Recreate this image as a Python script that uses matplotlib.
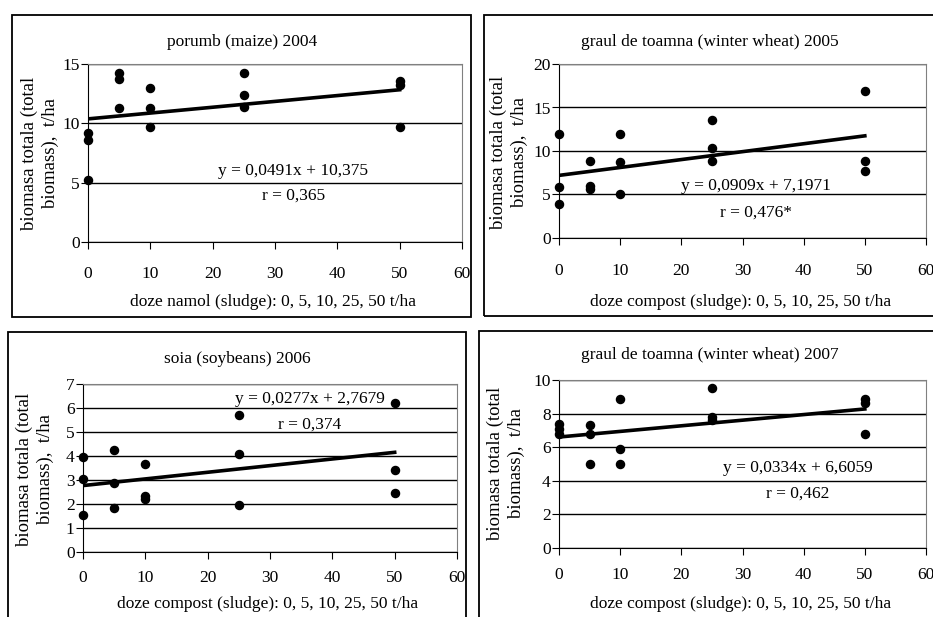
import numpy as np
import matplotlib
matplotlib.use("Agg")
import matplotlib.pyplot as plt
from matplotlib.patches import Rectangle

plt.rcParams['font.family'] = ['Liberation Serif', 'DejaVu Serif']

# doses (t/ha) and total biomass readings per crop/year
doze = [0, 0, 0, 5, 5, 5, 10, 10, 10, 25, 25, 25, 50, 50, 50]

porumb_2004 = [9.2, 8.6, 5.2, 14.2, 13.7, 11.3, 13.0, 11.3, 9.7, 14.2, 12.4, 11.4, 13.6, 13.2, 9.7]
grau_2005 = [11.9, 5.9, 3.9, 8.9, 6.0, 5.6, 12.0, 8.7, 5.1, 13.6, 10.4, 8.9, 16.9, 8.9, 7.7]
soia_2006 = [3.95, 3.03, 1.53, 4.23, 2.86, 1.83, 3.65, 2.34, 2.2, 5.72, 4.1, 1.94, 6.22, 3.43, 2.45]
grau_2007 = [7.4, 7.1, 6.8, 7.3, 6.8, 5.0, 8.85, 5.9, 5.0, 9.5, 7.8, 7.6, 8.85, 8.65, 6.8]

titles = ["porumb (maize) 2004", "graul de toamna (winter wheat) 2005",
          "soia (soybeans) 2006", "graul de toamna (winter wheat) 2007"]
xlabels = ["doze namol (sludge): 0, 5, 10, 25, 50 t/ha",
           "doze compost (sludge): 0, 5, 10, 25, 50 t/ha",
           "doze compost (sludge): 0, 5, 10, 25, 50 t/ha",
           "doze compost (sludge): 0, 5, 10, 25, 50 t/ha"]
slopes = [0.0491, 0.0909, 0.0277, 0.0334]
intercepts = [10.375, 7.1971, 2.7679, 6.6059]
eq_texts = ["y = 0,0491x + 10,375", "y = 0,0909x + 7,1971",
            "y = 0,0277x + 2,7679", "y = 0,0334x + 6,6059"]
r_texts = ["r = 0,365", "r = 0,476*", "r = 0,374", "r = 0,462"]
ymaxes = [15, 20, 7, 10]
ysteps = [5, 5, 1, 2]

W, H = 933, 617
fig = plt.figure(figsize=(W / 100, H / 100), dpi=100)

def fx(px):
    return px / W

def fy(py):
    return 1 - py / H

# pixel layout: axes box, frame box, title/xlabel/ylabel centres, text spots in data
layout = [
    dict(ax=(88, 462, 64, 242), frame=(12, 471, 15, 317), title=(242, 42),
         xl=(273, 302), yl=(40, 153), eq=(32.9, 6.0), r=(32.9, 3.9), pad=12),
    dict(ax=(559, 926, 64, 238), frame=(484, 940, 15, 316), title=(710, 42),
         xl=(741, 302), yl=(509, 152), eq=(32.2, 6.0), r=(32.2, 2.9), pad=13),
    dict(ax=(83, 457, 384, 552), frame=(8, 466, 332, 630), title=(237, 359),
         xl=(268, 604), yl=(35, 469), eq=(36.4, 6.39), r=(36.4, 5.3), pad=8),
    dict(ax=(559, 926, 380, 548), frame=(479, 940, 331, 630), title=(710, 355),
         xl=(741, 604), yl=(506, 463), eq=(39.1, 4.78), r=(39.1, 3.25), pad=9),
]

series = [porumb_2004, grau_2005, soia_2006, grau_2007]
fs = 12.5

for i, L in enumerate(layout):
    l, r, t, b = L["ax"]
    ax = fig.add_axes([fx(l), fy(b), fx(r - l), (b - t) / H])
    ax.scatter(doze, series[i], s=34, color="black", zorder=3, clip_on=False)
    xs = np.array([0, 50])
    ax.plot(xs, slopes[i] * xs + intercepts[i], color="black", lw=2.6, zorder=4)
    ax.set_xlim(0, 60)
    ax.set_ylim(0, ymaxes[i])
    ax.set_xticks(range(0, 61, 10))
    ax.set_yticks(np.arange(0, ymaxes[i] + 0.01, ysteps[i]))
    ax.yaxis.grid(True, color="black", lw=1)
    ax.set_axisbelow(True)
    for s in ["top", "right"]:
        ax.spines[s].set_color("#808080")
    for s in ["left", "bottom"]:
        ax.spines[s].set_color("black")
    ax.tick_params(axis="x", direction="out", length=5, pad=L["pad"], labelsize=fs)
    ax.tick_params(axis="y", direction="out", length=5, pad=1, labelsize=fs)
    ax.text(L["eq"][0], L["eq"][1], eq_texts[i], ha="center", va="center", fontsize=fs)
    ax.text(L["r"][0], L["r"][1], r_texts[i], ha="center", va="center", fontsize=fs)

    fl, fr, ft, fb = L["frame"]
    fig.patches.append(Rectangle((fx(fl), fy(fb)), fx(fr - fl), (fb - ft) / H,
                                 transform=fig.transFigure, fill=False,
                                 edgecolor="black", lw=1.3))
    fig.text(fx(L["title"][0]), fy(L["title"][1]), titles[i], ha="center", va="center", fontsize=fs)
    fig.text(fx(L["xl"][0]), fy(L["xl"][1]), xlabels[i], ha="center", va="center", fontsize=fs)
    fig.text(fx(L["yl"][0]), fy(L["yl"][1]), "biomasa totala (total\nbiomass),  t/ha",
             ha="center", va="center", rotation=90, fontsize=13.5, linespacing=1.3)

fig.savefig("out.png", dpi=100)
